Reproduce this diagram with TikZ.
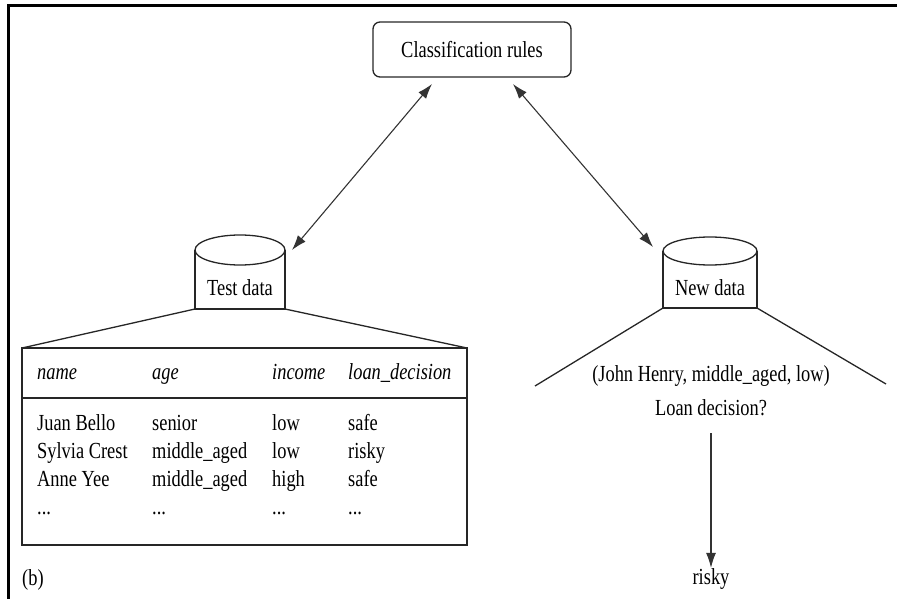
\documentclass[tikz,border=0pt]{standalone}
\usepackage{fontspec}
\setmainfont[FakeStretch=0.8]{Liberation Serif}
\usetikzlibrary{arrows.meta}
\tikzset{
  txt/.style={font=\fontsize{23}{27}\selectfont, inner sep=0pt},
  hdr/.style={txt, font=\fontsize{23}{27}\selectfont\itshape, anchor=base west},
  cell/.style={txt, anchor=base west},
  shape line/.style={draw=black!85, line width=1.3pt},
  link/.style={draw=black!80, line width=1.1pt,
    {Latex[length=15pt,width=10pt]}-{Latex[length=15pt,width=10pt]}},
  oneway/.style={draw=black!80, line width=1.1pt, -{Latex[length=15pt,width=10pt]}}
}
\begin{document}
\begin{tikzpicture}[x=1pt,y=-1pt]
  \useasboundingbox (0,0) rectangle (897,599);
  % outer frame (top and left edges)
  \draw[line width=3pt] (8,599) -- (8,6) -- (897,6);

  % classification rules box
  \node[txt, shape line, rounded corners=7pt, minimum width=198pt, minimum height=55pt]
    (rules) at (472,49.5) {Classification rules};

  % test data store
  \draw[shape line] (195,250) -- (195,309) -- (285,309) -- (285,250);
  \draw[shape line] (240,250) ellipse [x radius=45, y radius=15];
  \node[txt] (testdata) at (240,288) {Test data};

  % new data store
  \draw[shape line] (663,251) -- (663,308) -- (757,308) -- (757,251);
  \draw[shape line] (710,251) ellipse [x radius=47, y radius=14];
  \node[txt] (newdata) at (710,288) {New data};

  % connector end points
  \coordinate (rules-l) at (432,84);
  \coordinate (rules-r) at (513,84);
  \coordinate (test-in) at (292,250);
  \coordinate (new-in) at (653,247);
  \draw[link] (rules-l) -- (test-in);
  \draw[link] (rules-r) -- (new-in);

  % fan-out from the test data store to the table
  \draw[shape line] (195,309) -- (22,348);
  \draw[shape line] (285,309) -- (467,348);
  \draw[shape line] (22,348) rectangle (467,545);
  \draw[shape line] (22,398) -- (467,398);

  % table header
  \node[hdr] (h-name) at (37,379) {name};
  \node[hdr] (h-age) at (152,379) {age};
  \node[hdr] (h-inc) at (272,379) {income};
  \node[hdr] (h-dec) at (348,379) {loan\_decision};

  % table rows
  \node[cell] at (37,430) {Juan Bello};
  \node[cell] at (152,430) {senior};
  \node[cell] at (272,430) {low};
  \node[cell] at (348,430) {safe};
  \node[cell] at (37,458) {Sylvia Crest};
  \node[cell] at (152,458) {middle\_aged};
  \node[cell] at (272,458) {low};
  \node[cell] at (348,458) {risky};
  \node[cell] at (37,486) {Anne Yee};
  \node[cell] at (152,486) {middle\_aged};
  \node[cell] at (272,486) {high};
  \node[cell] at (348,486) {safe};
  \node[cell] at (37,514) {...};
  \node[cell] at (152,514) {...};
  \node[cell] at (272,514) {...};
  \node[cell] at (348,514) {...};

  % fan-out from the new data store
  \draw[shape line] (663,308) -- (535,386);
  \draw[shape line] (757,308) -- (886,384);
  \node[txt, anchor=base] (tuple) at (711,381) {(John Henry, middle\_aged, low)};
  \node[txt, anchor=base] (question) at (711,415) {Loan decision?};
  \coordinate (q-out) at (711,433);
  \node[txt, anchor=base] (answer) at (711,584) {risky};
  \draw[oneway] (q-out) -- (answer.north);

  % panel label
  \node[txt, anchor=base west] (panel) at (22,585) {(b)};
\end{tikzpicture}
\end{document}
